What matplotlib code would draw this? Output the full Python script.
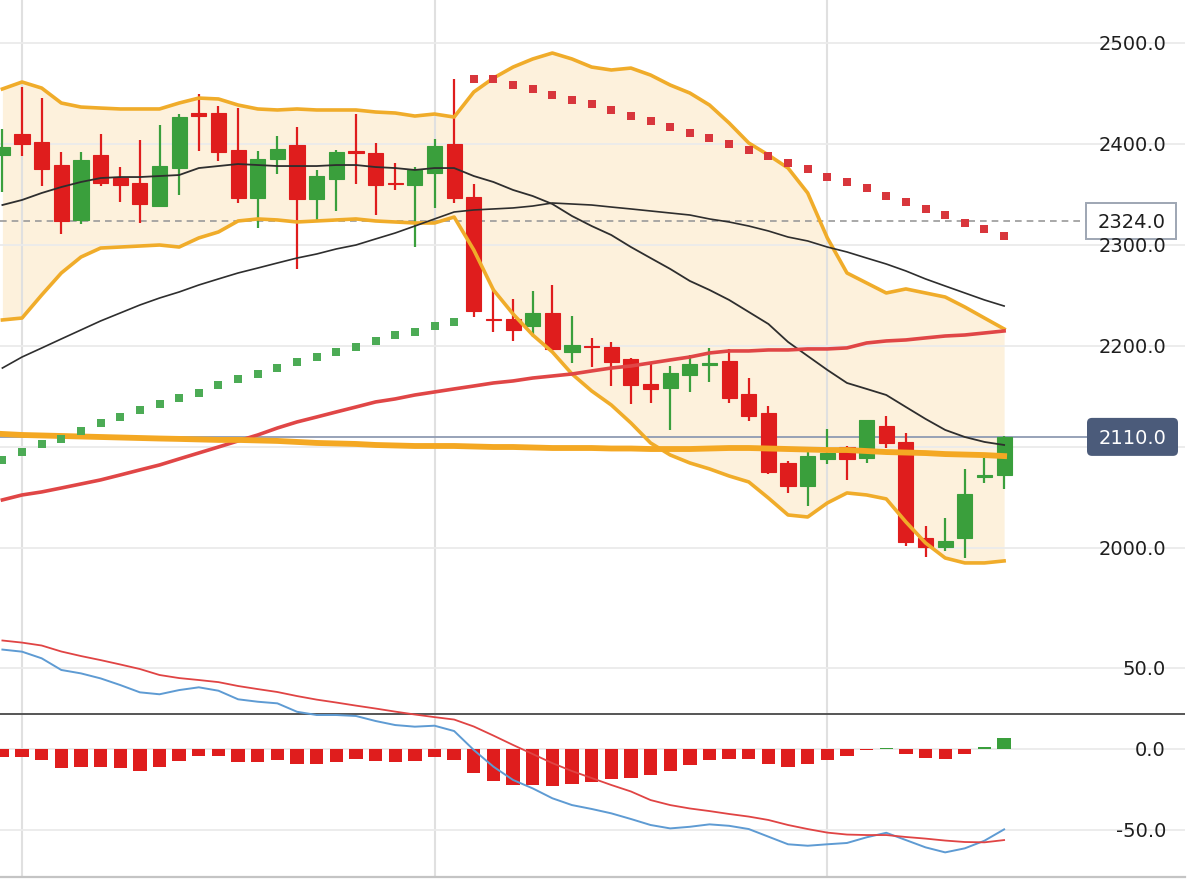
import numpy as np
import matplotlib
matplotlib.use('Agg')
import matplotlib.pyplot as plt
from matplotlib import transforms
from matplotlib.patches import Rectangle, FancyBboxPatch

# ---------------------------------------------------------------------------
# DATA
# ---------------------------------------------------------------------------
opens = [2389, 2410, 2402, 2379, 2325, 2389, 2366, 2361, 2339, 2376,
         2431, 2431, 2394, 2347, 2385, 2399, 2346, 2365, 2393, 2391,
         2361, 2359, 2371, 2400, 2348, 2227, 2227, 2220, 2233, 2194,
         2200, 2199, 2187, 2162, 2158, 2171, 2181, 2185, 2152, 2134,
         2084, 2061, 2088, 2100, 2089, 2121, 2105, 2010, 2001, 2010,
         2070, 2072]
highs = [2415, 2456, 2446, 2392, 2392, 2410, 2377, 2404, 2419, 2430,
         2450, 2438, 2436, 2393, 2408, 2417, 2374, 2394, 2430, 2401,
         2381, 2377, 2405, 2464, 2360, 2257, 2247, 2254, 2260, 2230,
         2208, 2204, 2188, 2182, 2180, 2191, 2198, 2197, 2168, 2141,
         2086, 2095, 2118, 2101, 2127, 2131, 2114, 2022, 2030, 2078,
         2089, 2111]
lows = [2352, 2388, 2358, 2311, 2321, 2358, 2343, 2322, 2338, 2350,
        2393, 2383, 2342, 2317, 2370, 2276, 2325, 2334, 2360, 2330,
        2354, 2298, 2337, 2342, 2229, 2214, 2205, 2209, 2195, 2183,
        2179, 2160, 2143, 2144, 2117, 2154, 2164, 2144, 2126, 2073,
        2054, 2042, 2083, 2067, 2084, 2099, 2002, 1991, 1997, 1990,
        2064, 2058]
closes = [2397, 2400, 2375, 2324, 2384, 2361, 2359, 2341, 2378, 2427,
          2428, 2392, 2347, 2385, 2395, 2346, 2368, 2392, 2391, 2359,
          2360, 2374, 2398, 2347, 2235, 2226, 2216, 2233, 2197, 2201,
          2199, 2184, 2161, 2157, 2173, 2182, 2183, 2149, 2131, 2075,
          2061, 2091, 2094, 2088, 2127, 2104, 2006, 2001, 2007, 2053,
          2072, 2110]

bb_upper = [2454.5, 2461.4, 2455.4, 2440.6, 2436.6, 2435.6, 2434.7, 2434.7, 2434.7, 2440.6,
            2445.5, 2444.6, 2438.6, 2434.7, 2433.7, 2434.7, 2433.7, 2433.7, 2433.7, 2431.7,
            2430.7, 2427.7, 2429.7, 2426.7, 2451.5, 2465.3, 2476.2, 2484.2, 2490.1, 2484.2,
            2476.2, 2473.3, 2475.2, 2468.3, 2458.4, 2450.5, 2438.6, 2420.8, 2401.0, 2389.1,
            2376.2, 2351.5, 2307.0, 2272.3, 2262.4, 2252.5, 2256.5, 2252.5, 2248.5, 2238.6,
            2227.7, 2216.9]
bb_mid = [2339.6, 2344.6, 2351.5, 2357.4, 2362.4, 2366.3, 2367.3, 2367.3, 2368.3, 2369.3,
          2376.2, 2378.2, 2380.2, 2379.2, 2378.2, 2378.2, 2378.2, 2379.2, 2379.2, 2377.2,
          2376.2, 2374.3, 2376.2, 2376.2, 2368.3, 2362.4, 2354.5, 2348.5, 2340.6, 2328.7,
          2318.8, 2309.9, 2298.0, 2287.1, 2276.3, 2264.4, 2255.5, 2245.6, 2233.7, 2221.8,
          2204.0, 2190.1, 2176.3, 2163.4, 2157.5, 2151.5, 2139.6, 2127.8, 2116.9, 2109.9,
          2105.0, 2102.0]
bb_lower = [2225.8, 2227.7, 2250.5, 2272.3, 2288.1, 2297.0, 2298.0, 2299.0, 2300.0, 2298.0,
            2307.0, 2312.9, 2323.8, 2325.8, 2324.8, 2322.8, 2323.8, 2324.8, 2325.8, 2323.8,
            2322.8, 2321.8, 2321.8, 2327.7, 2295.1, 2255.5, 2231.7, 2210.9, 2194.1, 2172.3,
            2155.5, 2141.6, 2123.8, 2104.0, 2092.1, 2084.2, 2078.3, 2071.3, 2065.4, 2049.5,
            2032.7, 2030.7, 2044.6, 2054.5, 2052.5, 2048.6, 2025.8, 2005.0, 1990.1, 1985.2,
            1985.2, 1987.2]
ma60 = [2178.2, 2189.1, 2198.0, 2207.0, 2215.9, 2224.8, 2232.7, 2240.6, 2247.5, 2253.5,
        2260.4, 2266.4, 2272.3, 2277.2, 2282.2, 2287.1, 2291.1, 2296.1, 2300.0, 2306.0,
        2311.9, 2318.8, 2325.8, 2332.7, 2334.7, 2335.7, 2336.7, 2338.6, 2341.6, 2340.6,
        2339.6, 2337.6, 2335.7, 2333.7, 2331.7, 2329.7, 2325.8, 2322.8, 2318.8, 2313.9,
        2307.9, 2304.0, 2298.0, 2293.1, 2287.1, 2281.2, 2274.3, 2266.4, 2259.4, 2252.5,
        2245.6, 2239.6]
ma120 = [2047.6, 2052.5, 2055.5, 2059.4, 2063.4, 2067.4, 2072.3, 2077.3, 2082.2, 2088.2,
         2094.1, 2100.0, 2106.0, 2111.9, 2118.8, 2124.8, 2129.7, 2134.7, 2139.6, 2144.6,
         2147.6, 2151.5, 2154.5, 2157.5, 2160.4, 2163.4, 2165.4, 2168.3, 2170.3, 2172.3,
         2175.3, 2178.2, 2180.2, 2183.2, 2186.2, 2189.1, 2193.1, 2195.1, 2195.1, 2196.1,
         2196.1, 2197.1, 2197.1, 2198.1, 2203.0, 2205.0, 2206.0, 2208.0, 2209.9, 2210.9,
         2212.9, 2214.9]
ma250 = [2112.9, 2111.9, 2111.4, 2110.9, 2110.4, 2109.9, 2109.4, 2108.9, 2108.4, 2108.0,
         2107.5, 2107.0, 2107.0, 2106.5, 2106.0, 2105.0, 2104.0, 2103.5, 2103.0, 2102.0,
         2101.5, 2101.0, 2101.0, 2101.0, 2100.5, 2100.0, 2100.0, 2099.5, 2099.0, 2099.0,
         2099.0, 2098.5, 2098.5, 2098.0, 2098.0, 2098.0, 2098.5, 2099.0, 2099.0, 2098.5,
         2098.0, 2097.5, 2097.0, 2097.0, 2096.0, 2095.0, 2094.5, 2094.0, 2093.0, 2092.5,
         2092.0, 2091.0]

# parabolic SAR: below price for the first 24 bars, above for the rest
sar_below = [2087.2, 2095.1, 2103.0, 2108.0, 2115.9, 2123.8, 2129.7, 2136.7, 2142.6, 2148.5,
             2153.5, 2161.4, 2167.4, 2172.3, 2178.2, 2184.2, 2189.1, 2194.1, 2199.0, 2205.0,
             2210.9, 2213.9, 2219.8, 2223.8]
sar_above = [2464.4, 2464.4, 2458.4, 2454.5, 2448.5, 2443.6, 2439.6, 2433.7, 2427.7, 2422.8,
             2416.8, 2410.9, 2406.0, 2400.0, 2394.1, 2388.1, 2381.2, 2375.3, 2367.3, 2362.4,
             2356.4, 2348.5, 2342.6, 2335.7, 2329.7, 2321.8, 2315.9, 2308.9]

macd_dif = [61.1, 59.8, 55.7, 48.5, 46.4, 43.3, 39.2, 34.7, 33.5, 36.1,
            37.8, 35.7, 30.4, 28.9, 27.9, 22.7, 20.7, 20.7, 20.1, 17.0,
            14.5, 13.5, 14.1, 10.8, -0.9, -11.2, -19.4, -24.6, -30.7, -34.9,
            -37.3, -40.0, -43.5, -47.2, -49.3, -48.3, -46.8, -47.7, -49.7, -54.4,
            -59.1, -60.0, -59.1, -58.3, -54.8, -52.0, -56.5, -61.0, -64.1, -61.6,
            -56.9, -49.9]
macd_dea = [66.7, 65.4, 63.6, 59.9, 57.1, 54.6, 51.9, 49.1, 45.4, 43.5,
            42.3, 41.0, 38.6, 36.7, 34.9, 32.4, 30.2, 28.4, 26.5, 24.7,
            22.8, 21.0, 19.4, 17.9, 13.6, 8.0, 2.2, -3.4, -9.0, -13.9,
            -18.2, -22.5, -26.5, -31.8, -34.9, -37.0, -38.6, -40.4, -42.0, -44.1,
            -47.2, -49.7, -51.9, -53.1, -53.4, -53.4, -54.6, -55.6, -56.8, -57.7,
            -57.9, -56.5]
macd_hist = [-5.1, -5.1, -7.2, -12.1, -11.1, -11.3, -12.3, -13.6, -11.7, -7.6,
             -4.5, -4.9, -8.6, -8.2, -7.2, -9.6, -9.6, -8.0, -6.6, -7.8,
             -8.2, -7.6, -5.1, -7.2, -15.2, -19.9, -22.6, -22.4, -23.0, -22.0,
             -20.4, -18.5, -17.9, -16.5, -13.8, -10.1, -7.0, -6.6, -6.6, -9.6,
             -11.1, -9.6, -7.0, -4.9, -0.8, 0.6, -3.5, -5.9, -6.6, -3.1,
             1.0, 6.4]

price_ticks = [2500, 2400, 2300, 2200, 2000]
macd_ticks = [50, 0, -50]
grid_prices = [2000, 2100, 2200, 2300, 2400, 2500]
vgrid_bars = [1, 22, 42]
ref_price = 2324.0
last_price = 2110.0
macd_ref = 21.3

# ---------------------------------------------------------------------------
# STYLE
# ---------------------------------------------------------------------------
UP = '#3a9f3c'
DOWN = '#df1d1d'
BAND = '#f0ac2a'
FILL = '#fdf1dc'
GRID = '#ebebeb'
VGRID = '#e0e0e0'
TAG = '#4b5b7a'

W, H = 1200, 881
fig = plt.figure(figsize=(W / 100, H / 100), dpi=100)
fig.patch.set_facecolor('white')

n = len(closes)
x = np.arange(n)
xlim = (-0.122, 60.21)

ax = fig.add_axes([0, 281 / H, 1185 / W, 600 / H])
mx = fig.add_axes([0, 4 / H, 1185 / W, 277 / H])
for a in (ax, mx):
    a.set_xlim(*xlim)
    a.set_xticks([])
    a.set_yticks([])
    a.set_facecolor('none')
    for s in a.spines.values():
        s.set_visible(False)
    for b in vgrid_bars:
        a.axvline(b, color=VGRID, lw=1.5, zorder=1.5)
ax.set_ylim(1948.5, 2542.6)
mx.set_ylim(-79.3, 91.7)
mx.spines['bottom'].set_visible(True)
mx.spines['bottom'].set_color('#c4c4c4')
mx.spines['bottom'].set_linewidth(1.6)

# ---------------------------------------------------------------------------
# MAIN PANEL
# ---------------------------------------------------------------------------
ax.fill_between(x, bb_lower, bb_upper, color=FILL, lw=0, zorder=1)
for g in grid_prices:
    ax.axhline(g, color=GRID, lw=1.3, zorder=1.6)

ax.axhline(ref_price, color='#9a9a9a', lw=1.2, ls=(0, (4, 3)), zorder=2,
           xmax=1086 / 1185)
ax.axhline(last_price, color='#8f9bb2', lw=1.3, zorder=2, xmax=1087 / 1185)

o = np.array(opens, float)
c = np.array(closes, float)
up = c >= o
cols = np.where(up, UP, DOWN)
ax.vlines(x, lows, highs, colors=cols, lw=1.6, zorder=3)
ax.bar(x, c - o, bottom=o, width=0.77, color=cols, edgecolor=cols, lw=0.8, zorder=3.1)

ax.plot(x, bb_upper, color=BAND, lw=2.6, zorder=4, solid_joinstyle='round')
ax.plot(x, bb_lower, color=BAND, lw=2.6, zorder=4, solid_joinstyle='round')
ax.plot(x, bb_mid, color='#2e2e2e', lw=1.3, zorder=4.1)
ax.plot(x, ma60, color='#2e2e2e', lw=1.2, zorder=4.1)
ax.plot(x, ma120, color='#e04646', lw=2.6, zorder=4.2)
ax.plot(x, ma250, color='#f4a823', lw=4.2, zorder=4.3)

nb = len(sar_below)
ax.plot(x[:nb], sar_below, ls='none', marker='s', ms=5.6, color='#4cab55', mew=0, zorder=5)
ax.plot(x[nb:], sar_above, ls='none', marker='s', ms=5.6, color='#d8363c', mew=0, zorder=5)

# ---------------------------------------------------------------------------
# MACD PANEL
# ---------------------------------------------------------------------------
for g in macd_ticks:
    mx.axhline(g, color=GRID, lw=1.3, zorder=1.6)
mx.axhline(macd_ref, color='#555555', lw=1.4, zorder=2)
h = np.array(macd_hist)
mx.bar(x, h, width=0.68, color=np.where(h >= 0, UP, DOWN), lw=0, zorder=3)
mx.plot(x, macd_dif, color='#5e9bd3', lw=1.4, zorder=4)
mx.plot(x, macd_dea, color='#e04444', lw=1.3, zorder=4)

# ---------------------------------------------------------------------------
# RIGHT-SIDE LABELS
# ---------------------------------------------------------------------------
def label_trans(a):
    base = transforms.blended_transform_factory(fig.transFigure, a.transData)
    return transforms.offset_copy(base, fig=fig, x=0, y=-7.2, units='dots')


for t in price_ticks:
    fig.text(1166 / W, t, f'{t:.1f}', transform=label_trans(ax), ha='right',
             va='baseline', fontsize=14, color='#1e1e1e', zorder=9)
for t in macd_ticks:
    fig.text(1166 / W, t, f'{t:.1f}', transform=label_trans(mx), ha='right',
             va='baseline', fontsize=14, color='#1e1e1e', zorder=9)


def y_inch(a, v):
    return a.transData.transform((0, v))[1] / fig.dpi


yc = y_inch(ax, ref_price)
fig.add_artist(Rectangle((10.86, yc - 0.18), 0.90, 0.36, transform=fig.dpi_scale_trans,
                         facecolor='white', edgecolor='#9ea6b3', lw=1.4, zorder=8))
fig.text(1166 / W, ref_price, f'{ref_price:.1f}', transform=label_trans(ax), ha='right',
         va='baseline', fontsize=14, color='#1e1e1e', zorder=10)

yc = y_inch(ax, last_price)
fig.add_artist(FancyBboxPatch((10.87, yc - 0.19), 0.91, 0.38,
                              boxstyle='round,pad=0,rounding_size=0.05',
                              transform=fig.dpi_scale_trans, facecolor=TAG,
                              edgecolor='none', zorder=8))
fig.text(1166 / W, last_price, f'{last_price:.1f}', transform=label_trans(ax), ha='right',
         va='baseline', fontsize=14, color='white', zorder=10)

fig.savefig('out.png', dpi=100, facecolor='white')
